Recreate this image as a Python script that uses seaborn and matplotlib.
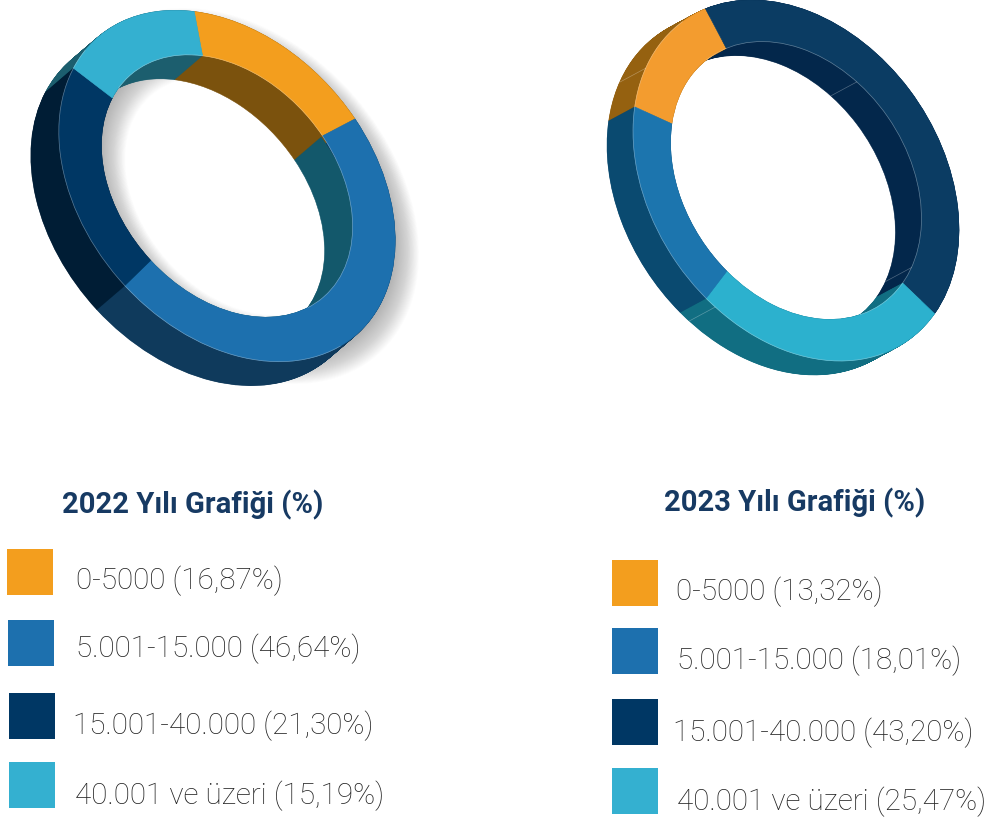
import matplotlib
matplotlib.use('Agg')
import matplotlib.pyplot as plt
from matplotlib.patches import Circle, Polygon, Rectangle, Wedge
from matplotlib.transforms import Affine2D
import numpy as np
import seaborn as sns

# Data
categories = ['0-5000', '5.001-15.000', '15.001-40.000', '40.001 ve üzeri']
values_2022 = [16.87, 46.64, 21.30, 15.19]
values_2023 = [13.32, 18.01, 43.20, 25.47]
titles = ['2022 Yılı Grafiği (%)', '2023 Yılı Grafiği (%)']

# Colours, same order as categories
legend_colors = sns.color_palette(['#F39E1E', '#1D70AE', '#003764', '#34B0D0'])
top_2022 = sns.color_palette(['#F39E1E', '#1D70AE', '#003764', '#34B0D0'])
side_2022 = sns.color_palette(['#7B520D', '#0F3A5C', '#001D35', '#1C5E6E'])
inner_2022 = sns.color_palette(['#7B520D', '#13586B', '#001D35', '#1C5E6E'])
top_2023 = sns.color_palette(['#F39C2F', '#1C75AE', '#0B3C63', '#2CB1CE'])
side_2023 = sns.color_palette(['#956110', '#0A4A70', '#03274B', '#116E82'])
inner_2023 = sns.color_palette(['#956110', '#0A4A70', '#03274B', '#116E82'])

sns.set_theme(style='white')
plt.rcParams['font.family'] = ['Roboto', 'DejaVu Sans']

fig = plt.figure(figsize=(9.95, 8.21), dpi=100)
ax = fig.add_axes([0, 0, 1, 1])


def ring_transform(shape, dx=0, dy=0):
    cx, cy, a, b, angle = shape
    return Affine2D().scale(a, b).rotate_deg(angle).translate(cx + dx, cy + dy) + ax.transData


def half_planes(shape, depth):
    # split the picture along the line through the points where the walls start
    cx, cy, a, b, angle = shape
    rad = np.radians(angle)
    rot = np.array([[np.cos(rad), -np.sin(rad)], [np.sin(rad), np.cos(rad)]])
    m = rot @ np.diag([a, b])
    v = np.linalg.solve(m, np.array(depth, dtype=float))
    d = m @ np.array([-v[1], v[0]])
    d = d / np.linalg.norm(d)
    n = np.array(depth, dtype=float) / np.linalg.norm(depth)
    p = np.array([cx + depth[0] / 2, cy + depth[1] / 2])
    back = Polygon([p - 2000 * d, p + 2000 * d, p + 2000 * d - 2000 * n, p - 2000 * d - 2000 * n],
                   transform=ax.transData)
    front = Polygon([p - 2000 * d, p + 2000 * d, p + 2000 * d + 2000 * n, p - 2000 * d + 2000 * n],
                    transform=ax.transData)
    return back, front


def draw_layer(values, colors, order, start, shape, radius, width, dx=0, dy=0, clip=None):
    sizes = [values[i] for i in order]
    cols = [colors[i] for i in order]
    wedges, _ = ax.pie(sizes, colors=cols, startangle=start, radius=radius, normalize=True,
                       wedgeprops=dict(width=width, linewidth=0.4))
    for w, c in zip(wedges, cols):
        w.set_edgecolor(c)
        w.set_transform(ring_transform(shape, dx, dy))
        if clip is not None:
            w.set_clip_path(clip)


def draw_donut(values, top, side, inner, order, start, shape, hole, depth, bottom):
    clip = Rectangle((0, 0), 995, bottom, transform=ax.transData)
    back, front = half_planes(shape, depth)
    # inner wall first, then a thin outer wall over it, then the top face
    for t in np.linspace(1, 0, 40):
        draw_layer(values, inner, order, start, shape, hole + 0.04, 0.04, depth[0] * t, depth[1] * t)
    for t in np.linspace(1, 0, 70):
        draw_layer(values, side, order, start, shape, 1.0, 0.006, depth[0] * t, depth[1] * t, clip)
    draw_layer(values, top, order, start, shape, 1.0, 1.0 - hole, clip=clip)
    # thin light edge where the top face meets the walls
    for radius, region in ((1.0, front), (hole, back)):
        edge = Circle((0, 0), radius, fill=False, edgecolor='white', linewidth=0.5, alpha=0.35,
                      transform=ring_transform(shape))
        ax.add_patch(edge)
        edge.set_clip_path(region)


def draw_seams(shape, angles, radius, depth):
    cx, cy, a, b, angle = shape
    tr = Affine2D().scale(a, b).rotate_deg(angle).translate(cx, cy)
    for phi in angles:
        x, y = tr.transform((radius * np.cos(np.radians(phi)), radius * np.sin(np.radians(phi))))
        ax.plot([x, x + depth[0]], [y, y + depth[1]], color='white', linewidth=0.5, alpha=0.3)


def draw_shadow(shape, hole, dx, dy, blur):
    # soft grey ring made of many faint rings
    n = 30
    for s in np.linspace(blur, -blur, n):
        r_out = 1.0 - s
        r_in = hole + s
        if r_out <= r_in:
            continue
        ax.add_patch(Wedge((0, 0), r_out, 0, 360, width=r_out - r_in, facecolor='#555555',
                           edgecolor='none', alpha=0.016,
                           transform=ring_transform(shape, dx, dy)))


# cx, cy, a, b, rotation
shape_2022 = (227, 186, 197, 142.6, 49)
shape_2023 = (796, 180.5, 195.2, 145, 55.3)

draw_shadow(shape_2022, 0.747, 12, 10, 0.07)
draw_donut(values_2022, top_2022, side_2022, inner_2022, [0, 1, 2, 3], -141, shape_2022, 0.747, (-28, 24), 385)
draw_donut(values_2023, top_2023, side_2023, inner_2023, [0, 2, 3, 1], 141.3, shape_2023, 0.77, (-26, 14), 374.5)
draw_seams(shape_2023, [155.7, 72.7], 1.0, (-26, 14))
draw_seams(shape_2023, [252, 336], 0.77, (-26, 14))

# Titles
title_color = '#173A63'
ax.text(193, 513, titles[0], ha='center', va='baseline', fontsize=21, fontweight='bold', color=title_color)
ax.text(795, 511, titles[1], ha='center', va='baseline', fontsize=21, fontweight='bold', color=title_color)

# Legends
swatches_2022 = [(7, 549), (8, 620), (9, 693), (9, 762)]
swatches_2023 = [(612, 560), (612, 628), (612, 699), (612, 768)]
labels_2022 = [(76, 589), (76, 657), (73, 734), (75, 804)]
labels_2023 = [(676, 600), (677, 669), (673, 741), (677, 810)]
text_color = '#222222'
for i, cat in enumerate(categories):
    for swatch, lab, vals in ((swatches_2022[i], labels_2022[i], values_2022),
                              (swatches_2023[i], labels_2023[i], values_2023)):
        ax.add_patch(Rectangle(swatch, 46, 46, facecolor=legend_colors[i], edgecolor='none'))
        pct = f'{vals[i]:.2f}'.replace('.', ',')
        ax.text(lab[0], lab[1], f'{cat} ({pct}%)', ha='left', va='baseline', fontsize=21.3,
                fontweight='light', color=text_color)

ax.set_aspect('auto')
ax.set_xlim(0, 995)
ax.set_ylim(821, 0)
ax.axis('off')
fig.savefig('out.png', dpi=100, facecolor='white')
